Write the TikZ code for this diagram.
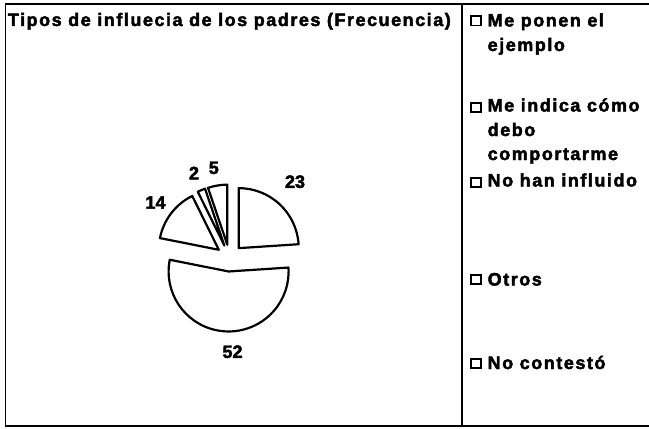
\documentclass[tikz,border=0pt]{standalone}
\usepackage{fontspec}
\setmainfont{Liberation Sans}
\newfontfamily\spacedfont{Liberation Sans Bold}[LetterSpace=8.5, FakeBold=2.5]
\newfontfamily\numfont{Liberation Sans Bold}[FakeBold=2.5]
\usetikzlibrary{calc}
\begin{document}
\begin{tikzpicture}[x=1bp,y=1bp,
  frame/.style={line width=1.5bp},
  slice/.style={draw, line width=2.2bp, line join=round, fill=white},
  num/.style={font=\numfont\fontsize{18bp}{20bp}\selectfont, inner sep=0},
  leg/.style={font=\spacedfont\fontsize{18bp}{20bp}\selectfont, inner sep=0, anchor=base west},
  box/.style={draw, line width=1.6bp, minimum width=10bp, minimum height=9.5bp, inner sep=0, anchor=south west}]
\useasboundingbox (0,0) rectangle (649,428);
% frame
\draw[frame] (649,424) -- (5.5,424) -- (5.5,2) -- (649,2);
\draw[frame] (462,424) -- (462,2);
% title
\node[leg] (title) at (7.7,402) {Tipos de influecia de los padres (Frecuencia)};
% legend
\node[box] (b1) at (470,401.5) {};
\node[leg] (t1a) at (487.5,401.5) {Me ponen el};
\node[leg] (t1b) at (487.5,377) {ejemplo};
\node[box] (b2) at (470,315) {};
\node[leg] (t2a) at (487.5,316.5) {Me indica cómo};
\node[leg] (t2b) at (487.5,292) {debo};
\node[leg] (t2c) at (487.5,268) {comportarme};
\node[box] (b3) at (470,240) {};
\node[leg] (t3) at (487.5,241.5) {No han influido};
\node[box] (b4) at (470,143) {};
\node[leg] (t4) at (487.5,142.5) {Otros};
\node[box] (b5) at (470,59) {};
\node[leg] (t5) at (487.5,59) {No contestó};
% pie
\coordinate (c) at (229.5,170);
\draw[slice] ($(c)+(46.875:13.5bp)$) -- ++(3.75:60bp) arc[start angle=3.75, end angle=90, radius=60bp] -- cycle;
\draw[slice] ($(c)+(266.25:13.5bp)$) -- ++(168.75:60bp) arc[start angle=168.75, end angle=363.75, radius=60bp] -- cycle;
\draw[slice] ($(c)+(142.5:13.5bp)$) -- ++(116.25:60bp) arc[start angle=116.25, end angle=168.75, radius=60bp] -- cycle;
\draw[slice] ($(c)+(112.5:13.5bp)$) -- ++(108.75:60bp) arc[start angle=108.75, end angle=116.25, radius=60bp] -- cycle;
\draw[slice] ($(c)+(99.375:13.5bp)$) -- ++(90:60bp) arc[start angle=90, end angle=108.75, radius=60bp] -- cycle;
% labels
\node[num] (l23) at (295,246.3) {23};
\node[num] (l52) at (232.5,76.3) {52};
\node[num] (l14) at (155.5,225.5) {14};
\node[num] (l2) at (194,255) {2};
\node[num] (l5) at (213.8,260.2) {5};
\end{tikzpicture}
\end{document}
